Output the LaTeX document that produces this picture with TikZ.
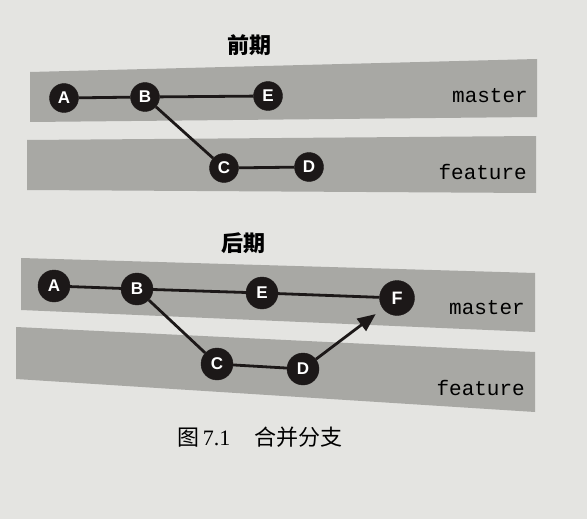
\documentclass[tikz,border=0pt]{standalone}
\usepackage{fontspec}
\setmainfont{Liberation Serif}
\newfontfamily\cjk{Noto Sans CJK SC}
\newfontfamily\monof{Liberation Mono}
\newfontfamily\sansf{Liberation Sans}
\usetikzlibrary{arrows.meta}
\definecolor{paper}{RGB}{228,228,225}
\definecolor{band}{RGB}{168,168,164}
\definecolor{dot}{RGB}{28,24,24}
\begin{document}
\begin{tikzpicture}[x=1pt,y=-1pt,
  commit/.style={circle,fill=dot,draw=dot,inner sep=0pt,minimum size=29pt,
    text=white,font=\sansf\bfseries\fontsize{17}{17}\selectfont},
  bigcommit/.style={commit,minimum size=35pt,font=\sansf\bfseries\fontsize{18}{18}\selectfont},
  edge/.style={draw=dot,line width=2.8pt},
  branch/.style={font=\monof\fontsize{21}{21}\selectfont,text=black,anchor=east,inner sep=0pt},
  title/.style={font=\cjk\bfseries\fontsize{22}{22}\selectfont,inner sep=0pt},
  bandfill/.style={fill=band}]
\fill[paper] (0,0) rectangle (587,519);
\useasboundingbox (0,0) rectangle (587,519);
% top diagram
\node[title] (t1) at (249,45) {前期};
\fill[bandfill] (30,72) -- (537,59) -- (537,117) -- (30,122) -- cycle;
\fill[bandfill] (27,140) -- (536,136) -- (536,193) -- (27,190) -- cycle;
\node[branch] (m1) at (528,96) {master};
\node[branch] (f1) at (527,172) {feature};
\node[commit] (A1) at (64,98) {A};
\node[commit] (B1) at (145,97) {B};
\node[commit] (E1) at (268,96) {E};
\node[commit] (C1) at (224,168) {C};
\node[commit] (D1) at (309,167) {D};
\draw[edge] (A1) -- (B1);
\draw[edge] (B1) -- (E1);
\draw[edge] (B1) -- (C1);
\draw[edge] (C1) -- (D1);
% bottom diagram
\node[title] (t2) at (243,243) {后期};
\fill[bandfill] (21,258) -- (535,273) -- (535,332) -- (21,310) -- cycle;
\fill[bandfill] (16,327) -- (535,352) -- (535,412) -- (16,379) -- cycle;
\node[branch] (m2) at (525,308) {master};
\node[branch] (f2) at (525,388) {feature};
\node[commit,minimum size=32pt] (A2) at (54,286) {A};
\node[commit,minimum size=32pt] (B2) at (137,289) {B};
\node[commit,minimum size=32pt] (E2) at (262,293) {E};
\node[bigcommit] (F2) at (397,298) {F};
\node[commit,minimum size=32pt] (C2) at (217,364) {C};
\node[commit,minimum size=32pt] (D2) at (303,369) {D};
\draw[edge] (A2) -- (B2);
\draw[edge] (B2) -- (E2);
\draw[edge] (E2) -- (F2);
\draw[edge] (B2) -- (C2);
\draw[edge] (C2) -- (D2);
\draw[edge,-{Triangle[length=18pt,width=15pt]},shorten >=9pt] (D2) -- (F2);
% caption
\node[inner sep=0pt,anchor=west,font=\fontsize{22}{22}\selectfont] (cap) at (177,437)
  {{\cjk 图}\,7.1\hspace{24pt}{\cjk 合并分支}};
\end{tikzpicture}
\end{document}
